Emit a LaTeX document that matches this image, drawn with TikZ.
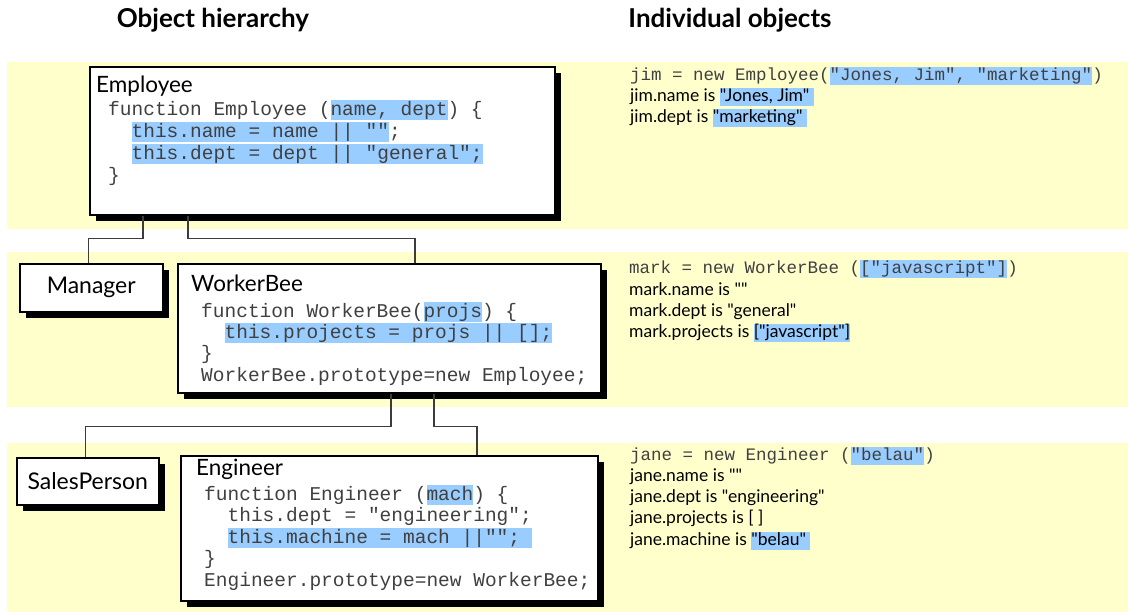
\documentclass[tikz,border=0pt]{standalone}
\usepackage{fontspec}
\newfontfamily\gill{Lato}
\newfontfamily\codefont{Liberation Mono}
\usetikzlibrary{shadows}
\definecolor{band}{RGB}{255,255,204}
\definecolor{hlc}{RGB}{153,204,255}
\definecolor{codec}{RGB}{64,64,64}
\definecolor{connc}{RGB}{60,60,60}
\newcommand\hl[1]{{\setlength\fboxsep{0pt}\colorbox{hlc}{\rule[-0.27em]{0pt}{1.02em}#1}}}
\begin{document}
\begin{tikzpicture}[x=1pt,y=-1pt,
  boxst/.style={draw=black, line width=1.5pt, fill=white, inner sep=0, anchor=north west,
    font=\gill\fontsize{23}{27}\selectfont,
    general shadow={fill=black, shadow xshift=6pt, shadow yshift=-6pt}},
  ttl/.style={font=\gill\fontsize{22.5}{26}\selectfont, anchor=base west, inner sep=0},
  codeline/.style={font=\codefont\fontsize{19.5}{22}\selectfont, text=codec, anchor=base west, inner sep=0},
  rcodeline/.style={font=\codefont\fontsize{17.5}{21}\selectfont, text=codec, anchor=base west, inner sep=0},
  rtxt/.style={font=\gill\fontsize{17.5}{21}\selectfont, anchor=base west, inner sep=0},
  hdr/.style={font=\gill\bfseries\fontsize{26}{30}\selectfont, anchor=center},
  connst/.style={draw=connc, line width=1.3pt}]
\useasboundingbox (0,0) rectangle (1128,614);
% bands
\fill[band] (7,62) rectangle (1128,229);
\fill[band] (7,252) rectangle (1128,407);
\fill[band] (7,443) rectangle (1128,612);
% headers
\node[hdr] (h1) at (213,20) {Object hierarchy};
\node[hdr] (h2) at (730,20) {Individual objects};
% boxes
\node[boxst, minimum width=465, minimum height=148] (emp) at (89,66) {};
\node[boxst, minimum width=143, minimum height=48] (mgr) at (19,263) {Manager};
\node[boxst, minimum width=423, minimum height=129] (wb) at (177,263) {};
\node[boxst, minimum width=142, minimum height=47] (sp) at (16,457) {SalesPerson};
\node[boxst, minimum width=417, minimum height=145] (eng) at (180,455) {};
% connectors
\draw[connst] ([xshift=54pt]emp.south west) -- ++(0,23) -| ([xshift=-3pt]mgr.north);
\draw[connst] ([xshift=99pt]emp.south west) -- ++(0,23) -| ([xshift=238pt]wb.north west);
\draw[connst] ([xshift=214pt]wb.south west) -- ++(0,33) -| ([xshift=-2pt]sp.north);
\draw[connst] ([xshift=257pt]wb.south west) -- ++(0,33) -| ([xshift=297pt]eng.north west);
% Employee
\node[ttl] (et) at (96,92) {Employee};
\node[codeline] (e1) at (108,115) {function Employee (\hl{name, dept}) \{};
\node[codeline] (e2) at (108,137) {\phantom{xx}\hl{this.name = name || ""};};
\node[codeline] (e3) at (108,159) {\phantom{xx}\hl{this.dept = dept || "general";}};
\node[codeline] (e4) at (108,181) {\}};
% WorkerBee
\node[ttl] (wt) at (191,291) {WorkerBee};
\node[codeline] (w1) at (201,317) {function WorkerBee(\hl{projs}) \{};
\node[codeline] (w2) at (201,338) {\phantom{xx}\hl{this.projects = projs || [];}};
\node[codeline] (w3) at (201,359) {\}};
\node[codeline] (w4) at (201,381) {WorkerBee.prototype=new Employee;};
% Engineer
\node[ttl] (gt) at (196,475) {Engineer};
\node[codeline] (g1) at (204,500) {function Engineer (\hl{mach}) \{};
\node[codeline] (g2) at (204,521) {\phantom{xx}this.dept = "engineering";};
\node[codeline] (g3) at (204,543) {\phantom{xx}\hl{this.machine = mach ||""; }};
\node[codeline] (g4) at (204,564) {\}};
\node[codeline] (g5) at (204,586) {Engineer.prototype=new WorkerBee;};
% right: jim
\node[rcodeline] (j0) at (630,80) {jim = new Employee(\hl{"Jones, Jim", "marketing"})};
\node[rtxt] (j1) at (630,101) {jim.name is \hl{"Jones, Jim" }};
\node[rtxt] (j2) at (630,122) {jim.dept is \hl{"marketing" }};
% right: mark
\node[rcodeline] (m0) at (629,273) {mark = new WorkerBee (\hl{["javascript"]})};
\node[rtxt] (m1) at (629,295) {mark.name is ""};
\node[rtxt] (m2) at (629,316) {mark.dept is "general"};
\node[rtxt] (m3) at (629,337) {mark.projects is \hl{["javascript"]}};
% right: jane
\node[rcodeline] (n0) at (630,460) {jane = new Engineer (\hl{"belau"})};
\node[rtxt] (n1) at (630,481) {jane.name is ""};
\node[rtxt] (n2) at (630,502) {jane.dept is "engineering"};
\node[rtxt] (n3) at (630,523) {jane.projects is [ ]};
\node[rtxt] (n4) at (630,545) {jane.machine is \hl{"belau" }};
\end{tikzpicture}
\end{document}
